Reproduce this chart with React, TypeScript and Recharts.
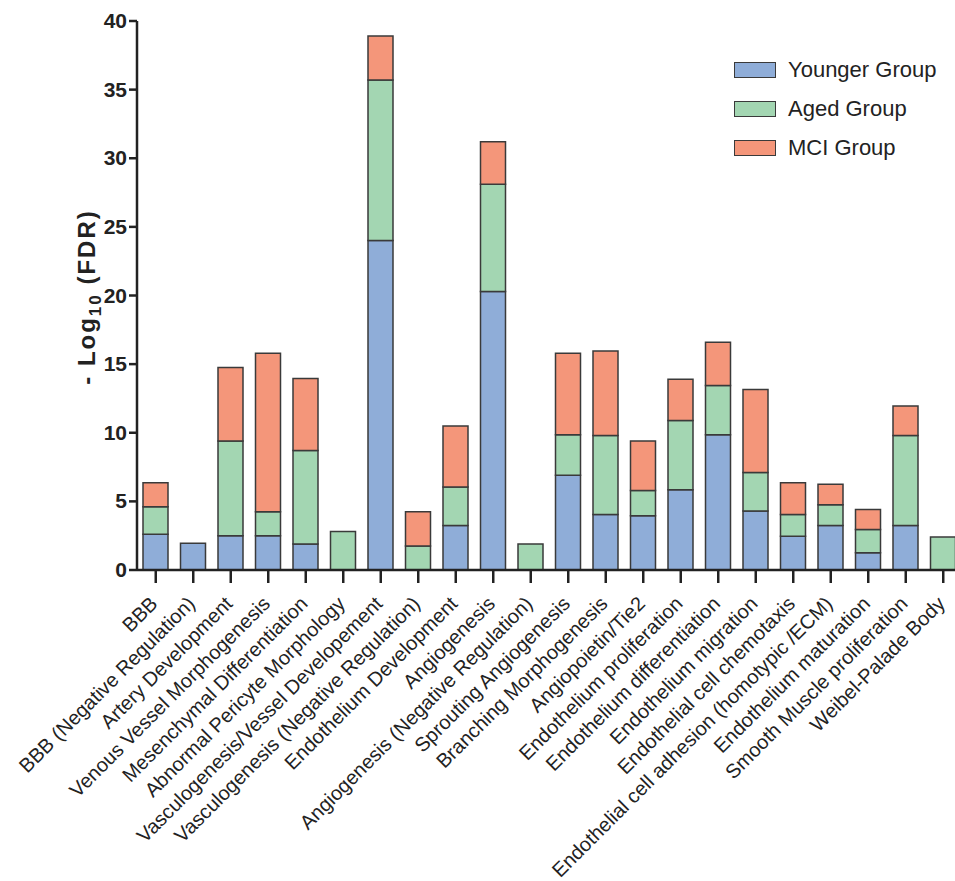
import React from 'react';
import { BarChart, Bar, XAxis, YAxis, Label } from 'recharts';

const categories = [
  'BBB',
  'BBB (Negative Regulation)',
  'Artery Development',
  'Venous Vessel Morphogenesis',
  'Mesenchymal Differentiation',
  'Abnormal Pericyte Morphology',
  'Vasculogenesis/Vessel Developement',
  'Vasculogenesis (Negative Regulation)',
  'Endothelium Development',
  'Angiogenesis',
  'Angiogenesis (Negative Regulation)',
  'Sprouting Angiogenesis',
  'Branching Morphogenesis',
  'Angiopoietin/Tie2',
  'Endothelium proliferation',
  'Endothelium differentiation',
  'Endothelium migration',
  'Endothelial cell chemotaxis',
  'Endothelial cell adhesion (homotypic /ECM)',
  'Endothelium maturation',
  'Smooth Muscle proliferation',
  'Weibel-Palade Body',
];

// stacked segment heights, -log10(FDR)
const younger = [2.6, 1.95, 2.5, 2.5, 1.9, 0, 24, 0, 3.25, 20.3, 0, 6.9, 4.05, 3.95, 5.85, 9.85, 4.3, 2.45, 3.25, 1.25, 3.25, 0];
const aged = [2.0, 0, 6.9, 1.75, 6.8, 2.8, 11.7, 1.75, 2.8, 7.8, 1.9, 2.95, 5.75, 1.85, 5.05, 3.6, 2.8, 1.6, 1.5, 1.7, 6.55, 2.4];
const mci = [1.75, 0, 5.35, 11.55, 5.25, 0, 3.2, 2.5, 4.45, 3.1, 0, 5.95, 6.15, 3.6, 3.0, 3.15, 6.05, 2.3, 1.5, 1.45, 2.15, 0];

const yTicks = [0, 5, 10, 15, 20, 25, 30, 35, 40];

const series = [
  { key: 'younger', name: 'Younger Group', color: '#8FADD8' },
  { key: 'aged', name: 'Aged Group', color: '#A3D6B2' },
  { key: 'mci', name: 'MCI Group', color: '#F4967A' },
];

const data = categories.map((name, i) => ({
  name,
  younger: younger[i],
  aged: aged[i],
  mci: mci[i],
}));

const FONT = '"Liberation Sans", Arial, sans-serif';
const INK = '#222';

const XTick = ({ x, y, payload }: any) => (
  <g transform={`translate(${x + 3},${y + 20})`}>
    <text
      x={0}
      y={0}
      textAnchor="end"
      transform="rotate(-45)"
      fontSize={20}
      fontFamily={FONT}
      fill={INK}
    >
      {payload.value}
    </text>
  </g>
);

const YTick = ({ x, y, payload }: any) => (
  <text
    x={x}
    y={y}
    dy={7}
    textAnchor="end"
    fontSize={21}
    fontWeight="bold"
    fontFamily={FONT}
    fill={INK}
  >
    {payload.value}
  </text>
);

const GroupLegend = () => (
  <div style={{ position: 'absolute', left: 734, top: 50, fontFamily: FONT, fontSize: 22, color: INK }}>
    {series.map((s) => (
      <div key={s.key} style={{ display: 'flex', alignItems: 'center', height: 39 }}>
        <span
          style={{
            display: 'inline-block',
            width: 40,
            height: 14,
            background: s.color,
            border: '1.5px solid #3a3a3a',
            marginRight: 12,
          }}
        />
        {s.name}
      </div>
    ))}
  </div>
);

export default function App() {
  return (
    <div style={{ position: 'absolute', left: 0, top: 0, width: 955, height: 881, overflow: 'hidden', background: '#fff' }}>
      <BarChart
        width={962}
        height={881}
        data={data}
        margin={{ top: 21, right: 0, bottom: 0, left: 0 }}
        barSize={25}
      >
        <XAxis
          dataKey="name"
          interval={0}
          height={311}
          tick={<XTick />}
          tickSize={13}
          axisLine={{ stroke: INK, strokeWidth: 2.5 }}
          tickLine={{ stroke: INK, strokeWidth: 2.5 }}
        />
        <YAxis
          width={137}
          domain={[0, 40]}
          ticks={yTicks}
          interval={0}
          tick={<YTick />}
          tickSize={8}
          axisLine={{ stroke: INK, strokeWidth: 2.5 }}
          tickLine={{ stroke: INK, strokeWidth: 2.5 }}
        >
          <Label
            content={() => (
              <text
                transform="translate(95,297) rotate(-90)"
                textAnchor="middle"
                fontSize={24}
                fontWeight="bold"
                fontFamily={FONT}
                letterSpacing={2}
                fill={INK}
              >
                - Log
                <tspan fontSize={17} dy={6}>10</tspan>
                <tspan dy={-6}> (FDR)</tspan>
              </text>
            )}
          />
        </YAxis>
        {series.map((s) => (
          <Bar
            key={s.key}
            dataKey={s.key}
            name={s.name}
            stackId="a"
            fill={s.color}
            stroke="#3a3a3a"
            strokeWidth={1.5}
            isAnimationActive={false}
          />
        ))}
      </BarChart>
      <GroupLegend />
    </div>
  );
}
